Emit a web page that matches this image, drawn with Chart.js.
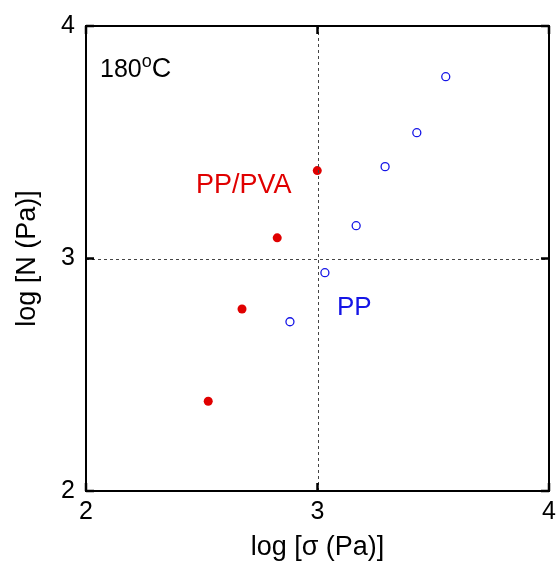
<!DOCTYPE html>
<html>
<head>
<meta charset="utf-8">
<script src="https://cdn.jsdelivr.net/npm/chart.js@4.4.1/dist/chart.umd.min.js"></script>
<style>
html,body{margin:0;padding:0;background:#fff;}
#wrap{width:557px;height:566px;}
</style>
</head>
<body>
<div id="wrap"><canvas id="c" width="557" height="566"></canvas></div>
<script>
// Data
const ppPvaLogSigma = [2.528, 2.674, 2.826, 2.999];
const ppPvaLogN     = [2.386, 2.783, 3.089, 3.378];
const ppLogSigma    = [2.881, 3.032, 3.167, 3.292, 3.429, 3.554];
const ppLogN        = [2.728, 2.939, 3.141, 3.395, 3.541, 3.782];
const xTicks = [2, 3, 4];
const yTicks = [2, 3, 4];
const refLines = {x: 3, y: 3};
const labels = {temp: '180', pva: 'PP/PVA', pp: 'PP', xTitle: 'log [σ (Pa)]', yTitle: 'log [N (Pa)]'};

const FONT = '"Liberation Sans", Arial, Helvetica, sans-serif';
const RED = '#e00000';
const BLUE = '#1515e6';

const toPts = (xs, ys) => xs.map((x, i) => ({x: x, y: ys[i]}));

const framePlugin = {
  id: 'frame',
  afterDatasetsDraw(chart) {
    const {ctx, chartArea: a, scales} = chart;
    const xs = scales.x, ys = scales.y;
    ctx.save();
    // dashed reference lines
    ctx.strokeStyle = '#444';
    ctx.lineWidth = 1;
    ctx.setLineDash([3, 3]);
    const px = Math.round(xs.getPixelForValue(refLines.x)) + 0.5;
    const py = Math.round(ys.getPixelForValue(refLines.y)) + 0.5;
    ctx.beginPath();
    ctx.moveTo(px, a.top); ctx.lineTo(px, a.bottom);
    ctx.moveTo(a.left, py); ctx.lineTo(a.right, py);
    ctx.stroke();
    ctx.setLineDash([]);
    // frame
    ctx.strokeStyle = '#000';
    ctx.lineWidth = 2;
    ctx.strokeRect(a.left, a.top, a.right - a.left, a.bottom - a.top);
    // inward ticks
    const tl = 8;
    ctx.lineWidth = 2.5;
    ctx.beginPath();
    xTicks.forEach(v => {
      const p = xs.getPixelForValue(v);
      ctx.moveTo(p, a.bottom); ctx.lineTo(p, a.bottom - tl);
      ctx.moveTo(p, a.top); ctx.lineTo(p, a.top + tl);
    });
    yTicks.forEach(v => {
      const p = ys.getPixelForValue(v);
      ctx.moveTo(a.left, p); ctx.lineTo(a.left + tl, p);
      ctx.moveTo(a.right, p); ctx.lineTo(a.right - tl, p);
    });
    ctx.stroke();
    // annotations
    ctx.textBaseline = 'alphabetic';
    ctx.textAlign = 'left';
    ctx.fillStyle = '#000';
    ctx.font = '25px ' + FONT;
    let tx = 100, ty = 77;
    ctx.fillText(labels.temp, tx, ty);
    tx += ctx.measureText(labels.temp).width;
    ctx.font = '18px ' + FONT;
    ctx.fillText('o', tx, ty - 10);
    tx += ctx.measureText('o').width;
    ctx.font = '27px ' + FONT;
    ctx.fillText('C', tx, ty);
    ctx.font = '27px ' + FONT;
    ctx.fillStyle = RED;
    ctx.fillText(labels.pva, 196, 193);
    ctx.font = '26px ' + FONT;
    ctx.fillStyle = BLUE;
    ctx.fillText(labels.pp, 337, 315);
    ctx.restore();
  }
};

new Chart(document.getElementById('c'), {
  type: 'scatter',
  data: {
    datasets: [
      {
        label: 'PP/PVA',
        data: toPts(ppPvaLogSigma, ppPvaLogN),
        pointStyle: 'circle',
        pointRadius: 4.5,
        backgroundColor: RED,
        borderColor: RED,
        borderWidth: 0
      },
      {
        label: 'PP',
        data: toPts(ppLogSigma, ppLogN),
        pointStyle: 'circle',
        pointRadius: 4,
        backgroundColor: 'rgba(255,255,255,0)',
        borderColor: BLUE,
        borderWidth: 1.3
      }
    ]
  },
  options: {
    responsive: false,
    animation: false,
    devicePixelRatio: 1,
    layout: {padding: {left: 0, right: 8, top: 26, bottom: 0}},
    plugins: {legend: {display: false}, tooltip: {enabled: false}},
    scales: {
      x: {
        type: 'linear', min: 2, max: 4,
        afterBuildTicks: s => { s.ticks = xTicks.map(v => ({value: v})); },
        afterFit: s => { s.height = 75; s.paddingRight = 0; s.paddingLeft = 0; },
        grid: {display: false, drawTicks: false},
        border: {display: false},
        ticks: {color: '#000', font: {family: FONT, size: 25}, padding: 6, maxRotation: 0},
        title: {display: true, text: labels.xTitle, color: '#000', font: {family: FONT, size: 27}, padding: {top: 0, bottom: 2}}
      },
      y: {
        type: 'linear', min: 2, max: 4,
        afterBuildTicks: s => { s.ticks = yTicks.map(v => ({value: v})); },
        afterFit: s => { s.width = 86; },
        grid: {display: false, drawTicks: false},
        border: {display: false},
        ticks: {color: '#000', font: {family: FONT, size: 25}, padding: 11},
        title: {display: true, text: labels.yTitle, color: '#000', font: {family: FONT, size: 27}, padding: {top: 11, bottom: 0}}
      }
    }
  },
  plugins: [framePlugin]
});
</script>
</body>
</html>
